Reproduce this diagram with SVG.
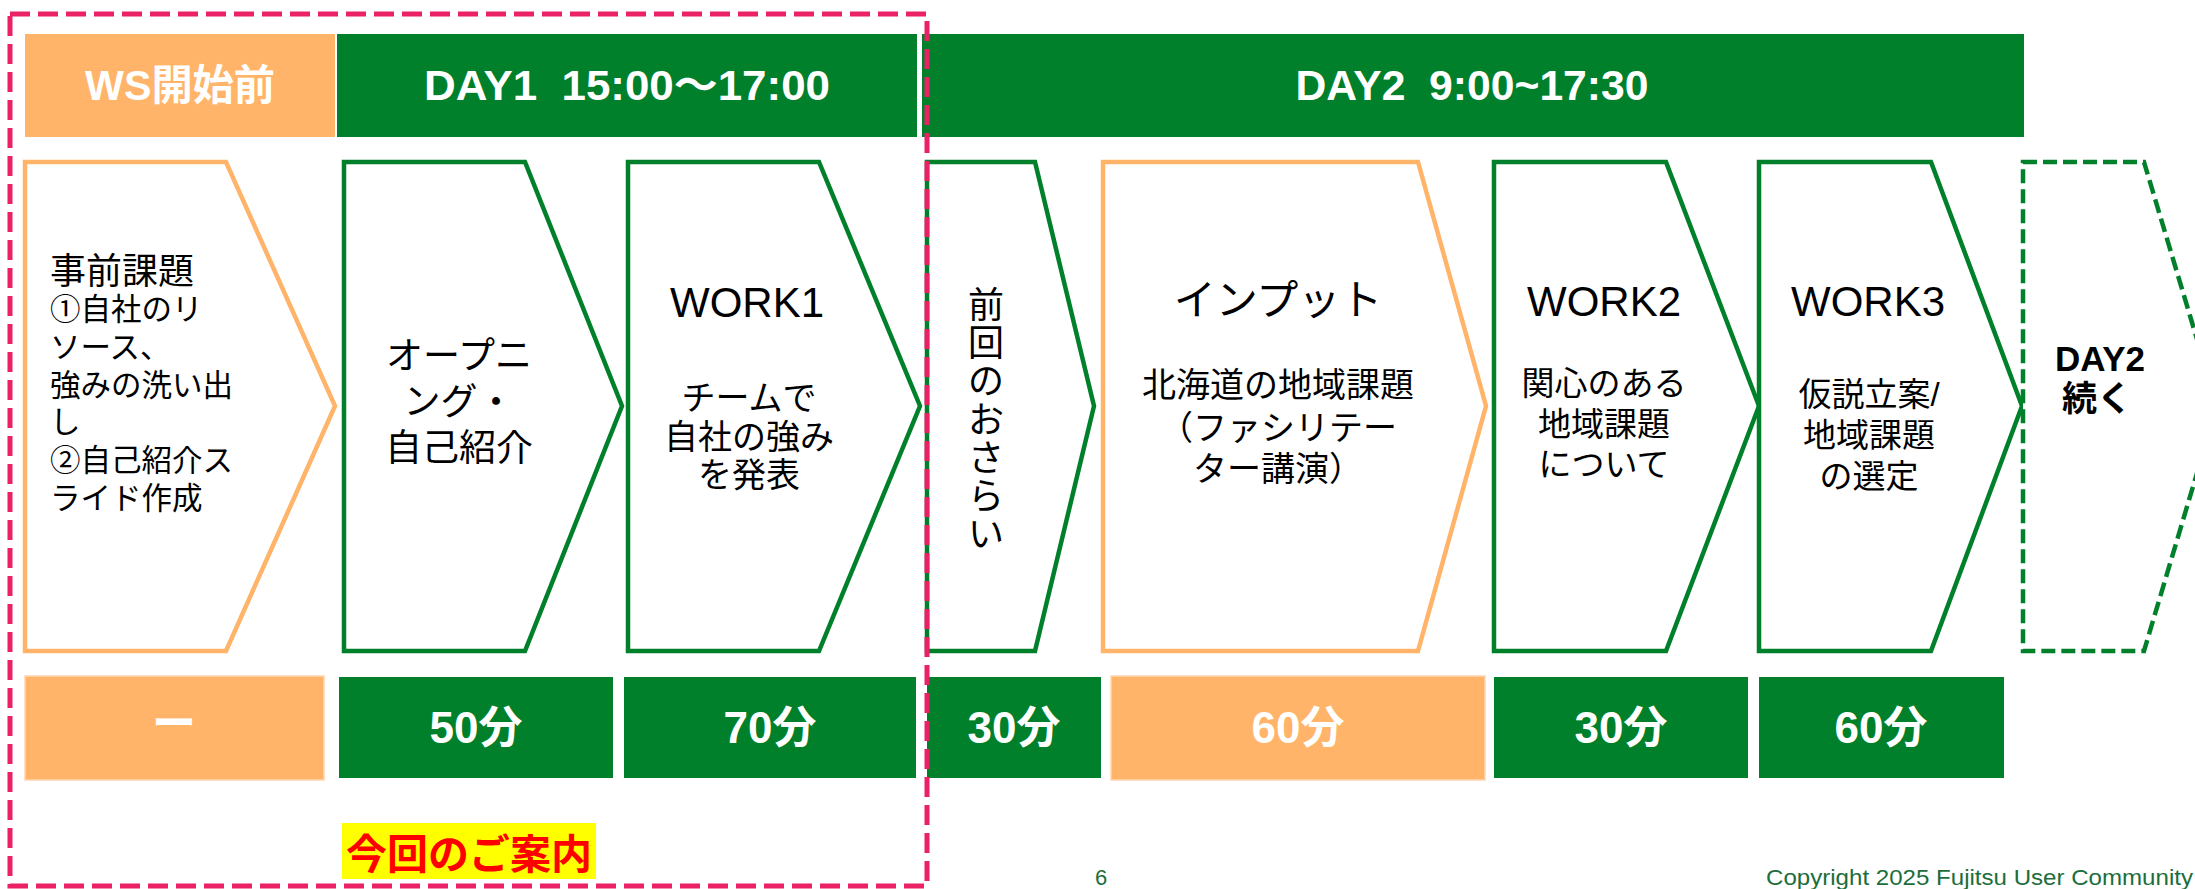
<svg xmlns="http://www.w3.org/2000/svg" width="2195" height="889" viewBox="0 0 2195 889">
<style>
.t{font-family:"Liberation Sans","Noto Sans CJK JP",sans-serif;fill:#000}
.c{text-anchor:middle}
.hd{font-family:"Liberation Sans","Noto Sans CJK JP",sans-serif;font-weight:bold;fill:#fff;font-size:42px;text-anchor:middle}
.du{font-family:"Liberation Sans","Noto Sans CJK JP",sans-serif;font-weight:bold;fill:#fff;font-size:44px;text-anchor:middle}
.g{fill:#00802A}
.o{fill:#FFB469}
.so{fill:#fff;stroke:#FFB469;stroke-width:4.5}
.sg{fill:#fff;stroke:#00802A;stroke-width:4.5}
.sd{fill:#fff;stroke:#00802A;stroke-width:4.5;stroke-dasharray:14 6}
.ft{font-family:"Liberation Sans","Noto Sans",sans-serif;fill:#1B6E3C;font-size:22px}
</style>
<rect width="2195" height="889" fill="#fff"/>

<g id="headers">
<rect class="o" x="25" y="34" width="310" height="103"/>
<text class="hd" x="180" y="100" textLength="190" lengthAdjust="spacingAndGlyphs">WS開始前</text>
<rect class="g" x="337" y="34" width="580" height="103"/>
<text class="hd" x="627" y="100" xml:space="preserve" textLength="406" lengthAdjust="spacingAndGlyphs">DAY1  15:00〜17:00</text>
<rect class="g" x="922" y="34" width="1102" height="103"/>
<text class="hd" x="1472" y="100" xml:space="preserve" textLength="353" lengthAdjust="spacingAndGlyphs">DAY2  9:00~17:30</text>
</g>

<g id="node-jizen">
<path class="so" d="M25,162 H226 L335,406 L226,651 H25 Z"/>
<text class="t" x="50" y="284" font-size="36">事前課題</text>
<text class="t" x="50" font-size="30.5"><tspan x="50" y="320">①自社のリ</tspan><tspan x="50" y="358">ソース、</tspan><tspan x="50" y="396">強みの洗い出</tspan><tspan x="50" y="433">し</tspan><tspan x="50" y="471">②自己紹介ス</tspan><tspan x="50" y="509">ライド作成</tspan></text>
</g>

<g id="node-opening">
<path class="sg" d="M344,162 H525 L622,406 L525,651 H344 Z"/>
<text class="t c" font-size="37"><tspan x="459" y="369">オープニ</tspan><tspan x="459" y="415">ング・</tspan><tspan x="459" y="461">自己紹介</tspan></text>
</g>

<g id="node-work1">
<path class="sg" d="M628,162 H819 L920,406 L819,651 H628 Z"/>
<text class="t c" x="747" y="317" font-size="42">WORK1</text>
<text class="t c" font-size="34"><tspan x="749" y="410">チームで</tspan><tspan x="749" y="449">自社の強み</tspan><tspan x="749" y="487">を発表</tspan></text>
</g>

<g id="node-review">
<path class="sg" d="M927,162 H1035 L1094,406 L1035,651 H927 Z"/>
<text class="t c" font-size="36"><tspan x="986" y="318">前</tspan><tspan x="986" y="356">回</tspan><tspan x="986" y="394">の</tspan><tspan x="986" y="433">お</tspan><tspan x="986" y="471">さ</tspan><tspan x="986" y="509">ら</tspan><tspan x="986" y="547">い</tspan></text>
</g>

<g id="node-input">
<path class="so" d="M1103,162 H1418 L1486,406 L1418,651 H1103 Z"/>
<text class="t c" x="1278" y="315" font-size="42">インプット</text>
<text class="t c" font-size="34"><tspan x="1278" y="397">北海道の地域課題</tspan><tspan x="1278" y="440">（ファシリテー</tspan><tspan x="1278" y="481">ター講演）</tspan></text>
</g>

<g id="node-work2">
<path class="sg" d="M1494,162 H1666 L1759,406 L1666,651 H1494 Z"/>
<text class="t c" x="1604" y="316" font-size="42">WORK2</text>
<text class="t c" font-size="33"><tspan x="1604" y="395">関心のある</tspan><tspan x="1604" y="436">地域課題</tspan><tspan x="1604" y="476">について</tspan></text>
</g>

<g id="node-work3">
<path class="sg" d="M1759,162 H1931 L2022,406 L1931,651 H1759 Z"/>
<text class="t c" x="1868" y="316" font-size="42">WORK3</text>
<text class="t c" font-size="33"><tspan x="1869" y="406">仮説立案/</tspan><tspan x="1869" y="447">地域課題</tspan><tspan x="1869" y="488">の選定</tspan></text>
</g>

<g id="node-day2cont">
<path class="sd" d="M2023,162 H2144 L2217,406 L2144,651 H2023 Z"/>
<text class="t c" font-size="35" font-weight="bold"><tspan x="2100" y="371">DAY2</tspan><tspan x="2097" y="411">続く</tspan></text>
</g>

<g id="durations">
<rect class="o" x="25" y="676" width="299" height="104" stroke="#FFD6AE" stroke-width="1.5"/>
<text class="du" x="174" y="739" font-size="32">ー</text>
<rect class="g" x="339" y="677" width="274" height="101"/>
<text class="du" x="476" y="743">50分</text>
<rect class="g" x="624" y="677" width="292" height="101"/>
<text class="du" x="770" y="743">70分</text>
<rect class="g" x="927" y="677" width="174" height="101"/>
<text class="du" x="1014" y="743">30分</text>
<rect class="o" x="1111" y="676" width="374" height="104" stroke="#FFD6AE" stroke-width="1.5"/>
<text class="du" x="1298" y="743">60分</text>
<rect class="g" x="1494" y="677" width="254" height="101"/>
<text class="du" x="1621" y="743">30分</text>
<rect class="g" x="1759" y="677" width="245" height="101"/>
<text class="du" x="1881" y="743">60分</text>
</g>

<g id="connectors"></g>

<g id="highlight">
<rect x="10" y="14" width="917" height="872" fill="none" stroke="#EB2167" stroke-width="5" stroke-dasharray="20 8"/>
<rect x="342" y="823" width="254" height="56" fill="#FFFF00"/>
<text x="469" y="869" font-family="Liberation Sans,Noto Sans CJK JP,sans-serif" font-weight="bold" font-size="41" fill="#FF0000" text-anchor="middle">今回のご案内</text>
</g>

<g id="footer">
<text class="ft" x="1095" y="885">6</text>
<text class="ft" x="1766" y="885" textLength="427" lengthAdjust="spacingAndGlyphs">Copyright 2025 Fujitsu User Community</text>
</g>
</svg>
